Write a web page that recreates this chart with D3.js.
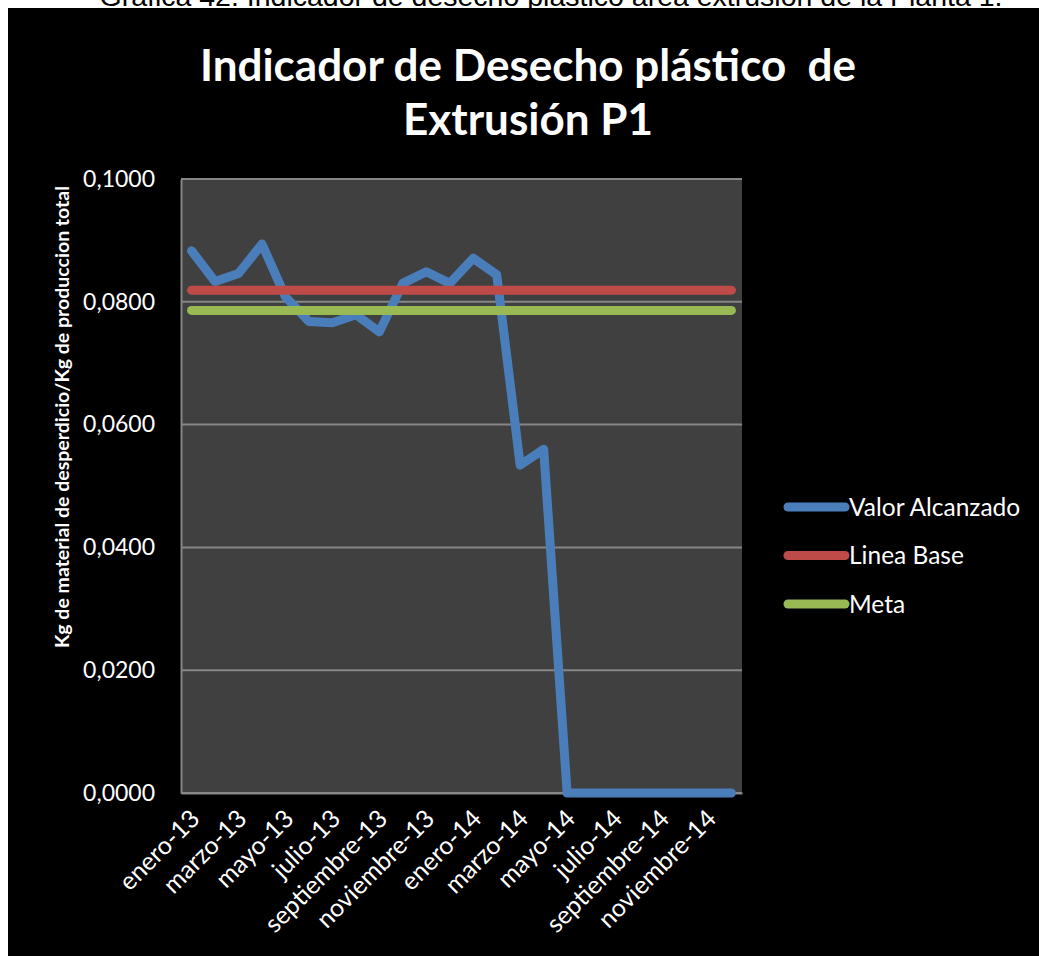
<!DOCTYPE html>
<html>
<head>
<meta charset="utf-8">
<script src="https://cdn.jsdelivr.net/npm/d3@7"></script>
<style>
  body { margin: 0; background: #fff; }
  text { font-family: Lato, "Open Sans", sans-serif; }
</style>
</head>
<body>
<div id="chart"></div>
<script>
// Data
const months = [
  "enero-13", "febrero-13", "marzo-13", "abril-13", "mayo-13", "junio-13",
  "julio-13", "agosto-13", "septiembre-13", "octubre-13", "noviembre-13", "diciembre-13",
  "enero-14", "febrero-14", "marzo-14", "abril-14", "mayo-14", "junio-14",
  "julio-14", "agosto-14", "septiembre-14", "octubre-14", "noviembre-14", "diciembre-14"
];
const valorAlcanzado = [
  0.0883, 0.0833, 0.0846, 0.0894, 0.0808, 0.0768, 0.0766, 0.0779, 0.0751, 0.0830, 0.0849, 0.0830,
  0.0871, 0.0844, 0.0534, 0.0560, 0.0000, 0.0000, 0.0000, 0.0000, 0.0000, 0.0000, 0.0000, 0.0000
];
const lineaBase = months.map(() => 0.0819);
const meta = months.map(() => 0.0786);
const yTicks = [0, 0.02, 0.04, 0.06, 0.08, 0.1];

const series = [
  { name: "Valor Alcanzado", values: valorAlcanzado, color: "#4a7ebb" },
  { name: "Linea Base", values: lineaBase, color: "#be4b48" },
  { name: "Meta", values: meta, color: "#98b954" }
];

const width = 1039;
const height = 956;
const margin = { top: 179, right: 297, bottom: 163, left: 181 };

const svg = d3.select("#chart")
  .append("svg")
  .attr("width", width)
  .attr("height", height);

// caption cut off at the top of the page
svg.append("text")
  .attr("x", 551)
  .attr("y", 6)
  .attr("text-anchor", "middle")
  .attr("fill", "#000")
  .style("font-family", "'Liberation Sans', Arial, sans-serif")
  .style("font-size", "28.5px")
  .text("Gráfica 42. Indicador de desecho plástico área extrusión de la Planta 1.");

// black chart background
svg.append("rect")
  .attr("x", 8)
  .attr("y", 8)
  .attr("width", width - 8)
  .attr("height", height - 8)
  .attr("fill", "#000");

// Title
const title = svg.append("text")
  .attr("text-anchor", "middle")
  .attr("fill", "#fff")
  .style("font-size", "44px")
  .style("font-weight", "bold");
title.append("tspan").attr("x", 528).attr("y", 81).text("Indicador de Desecho plástico  de").style("white-space", "pre");
title.append("tspan").attr("x", 528).attr("y", 135).text("Extrusión P1");

// Scales
const x = d3.scalePoint()
  .domain(months)
  .range([margin.left, width - margin.right])
  .padding(0.45);

const y = d3.scaleLinear()
  .domain([0, 0.1])
  .range([height - margin.bottom, margin.top]);

// plot area
svg.append("rect")
  .attr("x", margin.left)
  .attr("y", margin.top)
  .attr("width", width - margin.right - margin.left)
  .attr("height", height - margin.bottom - margin.top)
  .attr("fill", "#404040");

// gridlines
svg.append("g")
  .selectAll("line")
  .data(yTicks)
  .join("line")
  .attr("x1", margin.left)
  .attr("x2", width - margin.right)
  .attr("y1", d => y(d))
  .attr("y2", d => y(d))
  .attr("stroke", "#868686")
  .attr("stroke-width", 2);

// y axis
const fmt = d => d3.format(".4f")(d).replace(".", ",");
const yAxis = svg.append("g")
  .attr("transform", `translate(${margin.left},0)`)
  .call(d3.axisLeft(y).tickValues(yTicks).tickFormat(fmt).tickSize(0).tickPadding(26));
yAxis.select(".domain").attr("stroke", "#868686").attr("stroke-width", 2);
yAxis.selectAll("text")
  .attr("fill", "#fff")
  .style("font-size", "23px")
  .style("font-family", "Lato, sans-serif");

// x axis
const xAxis = svg.append("g")
  .attr("transform", `translate(0,${height - margin.bottom})`)
  .call(d3.axisBottom(x).tickValues(months.filter((d, i) => i % 2 === 0)).tickSize(0).tickPadding(0));
xAxis.select(".domain").attr("stroke", "#868686").attr("stroke-width", 2);
xAxis.selectAll("text")
  .attr("fill", "#fff")
  .style("font-size", "25px")
  .style("font-family", "Lato, sans-serif")
  .attr("text-anchor", "end")
  .attr("dy", "0.35em")
  .attr("transform", "translate(3,21) rotate(-45)");

// y axis title
svg.append("text")
  .attr("transform", "translate(69,417) rotate(-90)")
  .attr("text-anchor", "middle")
  .attr("fill", "#fff")
  .style("font-size", "19.5px")
  .style("font-weight", "bold")
  .text("Kg de material de desperdicio/Kg de produccion total");

// lines
const line = d3.line()
  .x((d, i) => x(months[i]))
  .y(d => y(d));

svg.append("g")
  .selectAll("path")
  .data(series)
  .join("path")
  .attr("d", d => line(d.values))
  .attr("fill", "none")
  .attr("stroke", d => d.color)
  .attr("stroke-width", 9)
  .attr("stroke-linecap", "round")
  .attr("stroke-linejoin", "round");

// legend
const legend = svg.append("g")
  .selectAll("g")
  .data(series)
  .join("g")
  .attr("transform", (d, i) => `translate(788,${507 + i * 48.5})`);
legend.append("line")
  .attr("x1", 0)
  .attr("x2", 57)
  .attr("stroke", d => d.color)
  .attr("stroke-width", 9)
  .attr("stroke-linecap", "round");
legend.append("text")
  .attr("x", 61)
  .attr("dy", "0.35em")
  .attr("fill", "#fff")
  .style("font-size", "24.5px")
  .text(d => d.name);
</script>
</body>
</html>
